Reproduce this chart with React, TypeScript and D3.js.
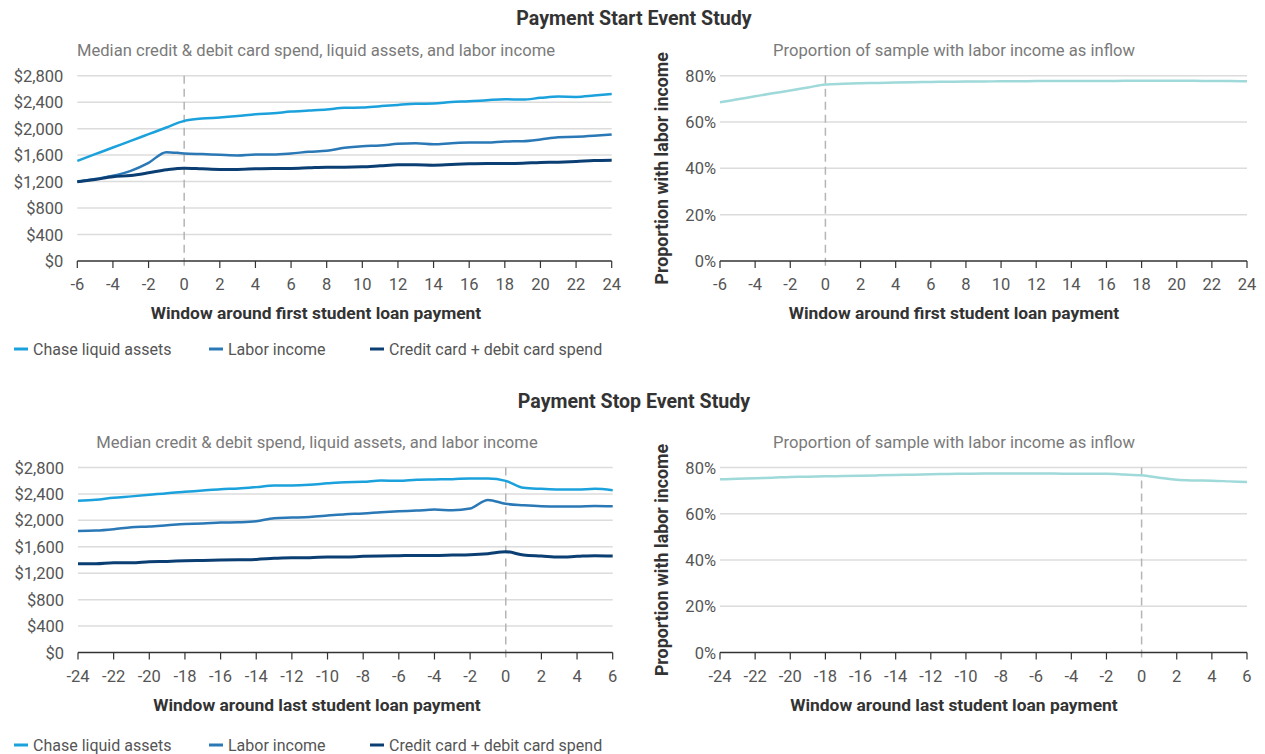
import React from "react";
import * as d3 from "d3";

// ---------- DATA ----------
const startX = d3.range(-6, 25); // -6..24
const stopX = d3.range(-24, 7); // -24..6

const startLiquid = [1513, 1614, 1715, 1815, 1916, 2017, 2117, 2153, 2168, 2190, 2218, 2233, 2258, 2273, 2289, 2314, 2319, 2340, 2359, 2375, 2380, 2404, 2414, 2430, 2444, 2439, 2465, 2485, 2480, 2500, 2525];
const startLabor = [1197, 1240, 1287, 1363, 1484, 1645, 1625, 1615, 1605, 1595, 1610, 1610, 1625, 1650, 1665, 1710, 1735, 1745, 1770, 1780, 1765, 1780, 1790, 1790, 1806, 1810, 1836, 1871, 1876, 1891, 1911];
const startSpend = [1197, 1232, 1272, 1293, 1333, 1378, 1403, 1393, 1383, 1383, 1393, 1398, 1398, 1408, 1418, 1418, 1423, 1438, 1453, 1453, 1448, 1458, 1468, 1473, 1473, 1478, 1489, 1494, 1504, 1519, 1524];
const startProp = [68.5, 69.8, 71.1, 72.4, 73.6, 74.9, 76.2, 76.5, 76.7, 76.9, 77.1, 77.2, 77.3, 77.4, 77.5, 77.5, 77.6, 77.6, 77.7, 77.7, 77.7, 77.7, 77.7, 77.8, 77.8, 77.8, 77.8, 77.8, 77.7, 77.7, 77.6];

const stopLiquid = [2296, 2313, 2343, 2363, 2386, 2412, 2432, 2452, 2472, 2482, 2503, 2528, 2528, 2538, 2560, 2578, 2583, 2603, 2598, 2614, 2619, 2624, 2634, 2634, 2598, 2492, 2477, 2467, 2467, 2477, 2457];
const stopLabor = [1840, 1845, 1865, 1896, 1906, 1926, 1946, 1951, 1966, 1971, 1986, 2032, 2042, 2052, 2072, 2093, 2103, 2123, 2138, 2148, 2163, 2153, 2179, 2310, 2250, 2229, 2214, 2209, 2209, 2219, 2214];
const stopSpend = [1344, 1344, 1359, 1359, 1374, 1379, 1389, 1394, 1399, 1404, 1409, 1425, 1435, 1435, 1445, 1445, 1455, 1460, 1465, 1470, 1470, 1475, 1480, 1496, 1526, 1475, 1460, 1445, 1455, 1465, 1460];
const stopProp = [74.9, 75.1, 75.4, 75.6, 75.9, 76.0, 76.2, 76.3, 76.4, 76.6, 76.8, 76.9, 77.1, 77.2, 77.3, 77.4, 77.4, 77.4, 77.4, 77.4, 77.3, 77.3, 77.3, 77.0, 76.6, 75.6, 74.7, 74.4, 74.3, 74.0, 73.7];

const moneyTicks = [0, 400, 800, 1200, 1600, 2000, 2400, 2800];
const pctTicks = [0, 20, 40, 60, 80];
const startTicks = d3.range(-6, 25, 2);
const stopTicks = d3.range(-24, 7, 2);

const seriesNames = ["Chase liquid assets", "Labor income", "Credit card + debit card spend"];
const seriesColors = ["#1ba1dc", "#2a78b5", "#0b3f73"];
const propColor = "#9fd9d9";

const FONT = "Roboto, 'Open Sans', sans-serif";

type Series = { values: number[]; color: string; width: number };

function Panel(props: {
  xs: number[];
  xTicks: number[];
  xRange: [number, number];
  yRange: [number, number];
  yMax: number;
  yTicks: number[];
  yFmt: (v: number) => string;
  labelGap: number;
  series: Series[];
  title: string;
  titleX: number;
  xTitle: string;
  yTitle?: string;
  yTitleX?: number;
}) {
  const x = d3.scaleLinear().domain([props.xs[0], props.xs[props.xs.length - 1]]).range(props.xRange);
  const y = d3.scaleLinear().domain([0, props.yMax]).range(props.yRange);
  const [x0, x1] = props.xRange;
  const [yb, yt] = props.yRange;
  const line = d3
    .line<number>()
    .x((_, i) => x(props.xs[i]))
    .y((d) => y(d))
    .curve(d3.curveMonotoneX);
  return (
    <g>
      <text x={props.titleX} y={yt - 20} textAnchor="middle" fontSize={16.6} fill="#7a7a7a" fontFamily={FONT}>
        {props.title}
      </text>
      {props.yTicks.map((t) => (
        <g key={"g" + t}>
          {t > 0 && <line x1={x0} x2={x1} y1={y(t)} y2={y(t)} stroke="#dcdcdc" strokeWidth={1.5} />}
          <text x={x0 - props.labelGap} y={y(t) + 6} textAnchor="end" fontSize={16.5} fill="#555" fontFamily={FONT}>
            {props.yFmt(t)}
          </text>
        </g>
      ))}
      <line x1={x(0)} x2={x(0)} y1={yt} y2={yb + 7} stroke="#b5b5b5" strokeWidth={1.5} strokeDasharray="8,5" />
      {props.series.map((s, i) => (
        <path key={i} d={line(s.values) || ""} fill="none" stroke={s.color} strokeWidth={s.width} strokeLinejoin="round" />
      ))}
      <line x1={x0} x2={x1} y1={yb} y2={yb} stroke="#333" strokeWidth={1.5} />
      {props.xTicks.map((t) => (
        <g key={"x" + t}>
          {t !== 0 && <line x1={x(t)} x2={x(t)} y1={yb} y2={yb + 7} stroke="#333" strokeWidth={1.2} />}
          <text x={x(t)} y={yb + 29} textAnchor="middle" fontSize={16.5} fill="#555" fontFamily={FONT}>
            {t}
          </text>
        </g>
      ))}
      <text x={props.titleX} y={yb + 58} textAnchor="middle" fontSize={17.4} fontWeight="bold" fill="#333" fontFamily={FONT}>
        {props.xTitle}
      </text>
      {props.yTitle && (
        <text
          transform={`translate(${props.yTitleX},${(yb + yt) / 2}) rotate(-90)`}
          textAnchor="middle"
          fontSize={17.8}
          fontWeight="bold"
          fill="#333"
          fontFamily={FONT}
        >
          {props.yTitle}
        </text>
      )}
    </g>
  );
}

function Legend(props: { y: number }) {
  const xs = [14, 209, 370];
  return (
    <g>
      {seriesNames.map((n, i) => (
        <g key={n}>
          <line x1={xs[i]} x2={xs[i] + 14} y1={props.y} y2={props.y} stroke={seriesColors[i]} strokeWidth={3} />
          <text x={xs[i] + 19} y={props.y + 6} fontSize={16} fill="#555" fontFamily={FONT}>
            {n}
          </text>
        </g>
      ))}
    </g>
  );
}

export default function App() {
  const money = (v: number) => "$" + d3.format(",")(v);
  const pct = (v: number) => v + "%";
  const moneySeries = (a: number[], b: number[], c: number[]): Series[] => [
    { values: a, color: seriesColors[0], width: 2.5 },
    { values: b, color: seriesColors[1], width: 2.5 },
    { values: c, color: seriesColors[2], width: 3 },
  ];
  return (
    <svg width={1265} height={754} style={{ position: "absolute", left: 0, top: 0, background: "#fff" }}>
      <text x={634} y={25} textAnchor="middle" fontSize={19.6} fontWeight="bold" fill="#333" fontFamily={FONT}>
        Payment Start Event Study
      </text>
      <Panel
        xs={startX}
        xTicks={startTicks}
        xRange={[77.3, 611.7]}
        yRange={[261, 75.7]}
        yMax={2800}
        yTicks={moneyTicks}
        yFmt={money}
        labelGap={14}
        series={moneySeries(startLiquid, startLabor, startSpend)}
        title="Median credit & debit card spend, liquid assets, and labor income"
        titleX={316}
        xTitle="Window around first student loan payment"
      />
      <Panel
        xs={startX}
        xTicks={startTicks}
        xRange={[720, 1247]}
        yRange={[261, 75.7]}
        yMax={80}
        yTicks={pctTicks}
        yFmt={pct}
        labelGap={4}
        series={[{ values: startProp, color: propColor, width: 2.5 }]}
        title="Proportion of sample with labor income as inflow"
        titleX={954}
        xTitle="Window around first student loan payment"
        yTitle="Proportion with labor income"
        yTitleX={668}
      />
      <Legend y={349} />
      <text x={634} y={408} textAnchor="middle" fontSize={19.6} fontWeight="bold" fill="#333" fontFamily={FONT}>
        Payment Stop Event Study
      </text>
      <Panel
        xs={stopX}
        xTicks={stopTicks}
        xRange={[78, 612.7]}
        yRange={[652.5, 467.5]}
        yMax={2800}
        yTicks={moneyTicks}
        yFmt={money}
        labelGap={14}
        series={moneySeries(stopLiquid, stopLabor, stopSpend)}
        title="Median credit & debit spend, liquid assets, and labor income"
        titleX={317}
        xTitle="Window around last student loan payment"
      />
      <Panel
        xs={stopX}
        xTicks={stopTicks}
        xRange={[720, 1247]}
        yRange={[652.5, 467.5]}
        yMax={80}
        yTicks={pctTicks}
        yFmt={pct}
        labelGap={4}
        series={[{ values: stopProp, color: propColor, width: 2.5 }]}
        title="Proportion of sample with labor income as inflow"
        titleX={954}
        xTitle="Window around last student loan payment"
        yTitle="Proportion with labor income"
        yTitleX={668}
      />
      <Legend y={745} />
    </svg>
  );
}
